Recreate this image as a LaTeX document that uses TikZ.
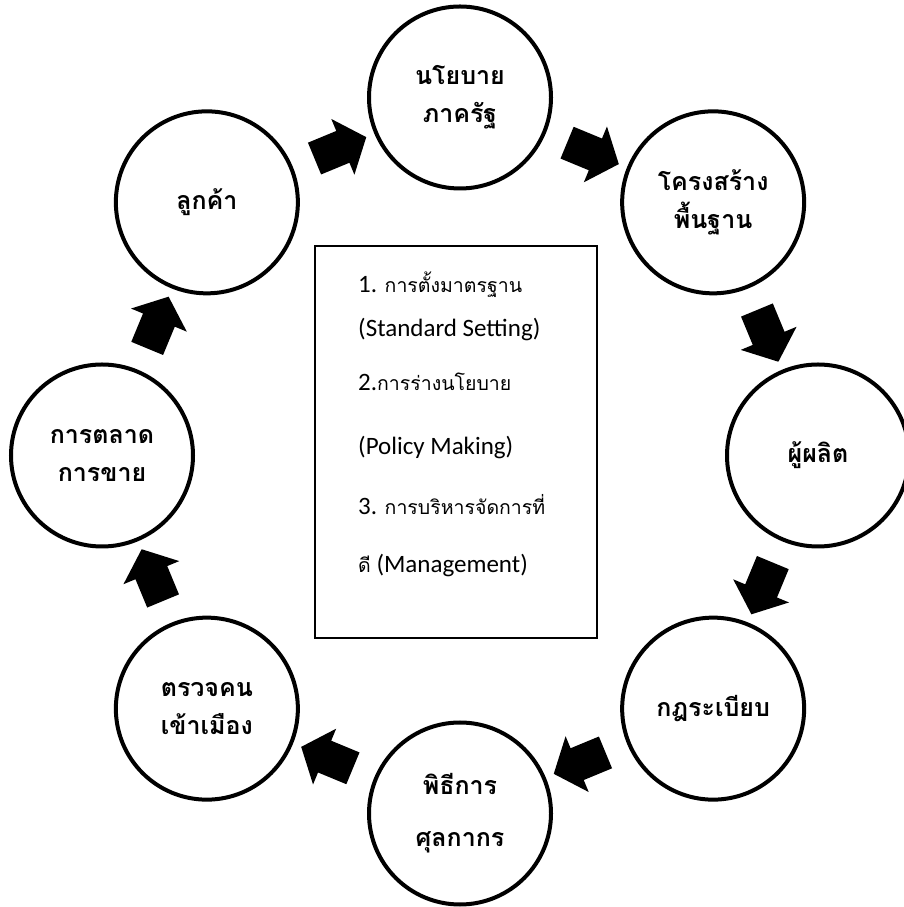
\documentclass[tikz,border=0pt]{standalone}
\usepackage{fontspec}
\setmainfont{Carlito}
\newfontfamily\thai[Script=Thai]{Loma}
\usetikzlibrary{shapes.arrows}
\begin{document}
\begin{tikzpicture}[x=1pt,y=1pt,
  stage/.style={circle,draw=black,line width=4pt,minimum size=182pt,inner sep=0pt,
    align=center,font=\thai\bfseries\fontsize{25}{38}\selectfont},
  flowarrow/.style={single arrow,fill=black,draw=none,minimum height=56pt,
    inner xsep=0pt,inner ysep=17pt,
    single arrow head extend=13pt,single arrow tip angle=100},
  boxline/.style={anchor=base west,inner sep=0pt,font=\fontsize{25}{28}\selectfont}]
\useasboundingbox (0,0) rectangle (904,907);
\coordinate (c) at (460,451.5);
% central box
\node[draw=black,line width=1.5pt,minimum width=282pt,minimum height=392pt,inner sep=0pt] (box) at (456,465) {};
% stages
\node[stage] (n1) at ([shift={(90:358)}]c) {นโยบาย\\ภาครัฐ};
\node[stage] (n2) at ([shift={(45:358)}]c) {โครงสร้าง\\พื้นฐาน};
\node[stage] (n3) at ([shift={(0:358)}]c) {ผู้ผลิต};
\node[stage] (n4) at ([shift={(-45:358)}]c) {กฎระเบียบ};
\node[stage] (n5) at ([shift={(-90:358)}]c) {พิธีการ\\[14pt]ศุลกากร};
\node[stage] (n6) at ([shift={(-135:358)}]c) {ตรวจคน\\เข้าเมือง};
\node[stage] (n7) at ([shift={(180:358)}]c) {การตลาด\\การขาย};
\node[stage] (n8) at ([shift={(135:358)}]c) {ลูกค้า};
% arrows
\node[flowarrow,rotate=22.5] (a1) at ([shift={(112.5:330)}]c) {};
\node[flowarrow,rotate=-22.5] (a2) at ([shift={(67.5:330)}]c) {};
\node[flowarrow,rotate=-67.5] (a3) at ([shift={(22.5:330)}]c) {};
\node[flowarrow,rotate=-112.5] (a4) at ([shift={(-22.5:330)}]c) {};
\node[flowarrow,rotate=-157.5] (a5) at ([shift={(-67.5:330)}]c) {};
\node[flowarrow,rotate=157.5] (a6) at ([shift={(-112.5:330)}]c) {};
\node[flowarrow,rotate=112.5] (a7) at ([shift={(-157.5:330)}]c) {};
\node[flowarrow,rotate=67.5] (a8) at ([shift={(157.5:330)}]c) {};
% box text
\node[boxline] (t1) at (358,614) {1. {\thai\fontsize{19.5}{24}\selectfont การตั้งมาตรฐาน}};
\node[boxline] (t2) at (358,570) {(Standard Setting)};
\node[boxline] (t3) at (358,516) {2.{\thai\fontsize{19.5}{24}\selectfont การร่างนโยบาย}};
\node[boxline] (t4) at (358,452) {(Policy Making)};
\node[boxline] (t5) at (358,392) {3. {\thai\fontsize{19.5}{24}\selectfont การบริหารจัดการที่}};
\node[boxline] (t6) at (358,334) {{\thai\fontsize{19.5}{24}\selectfont ดี} (Management)};
\end{tikzpicture}
\end{document}
